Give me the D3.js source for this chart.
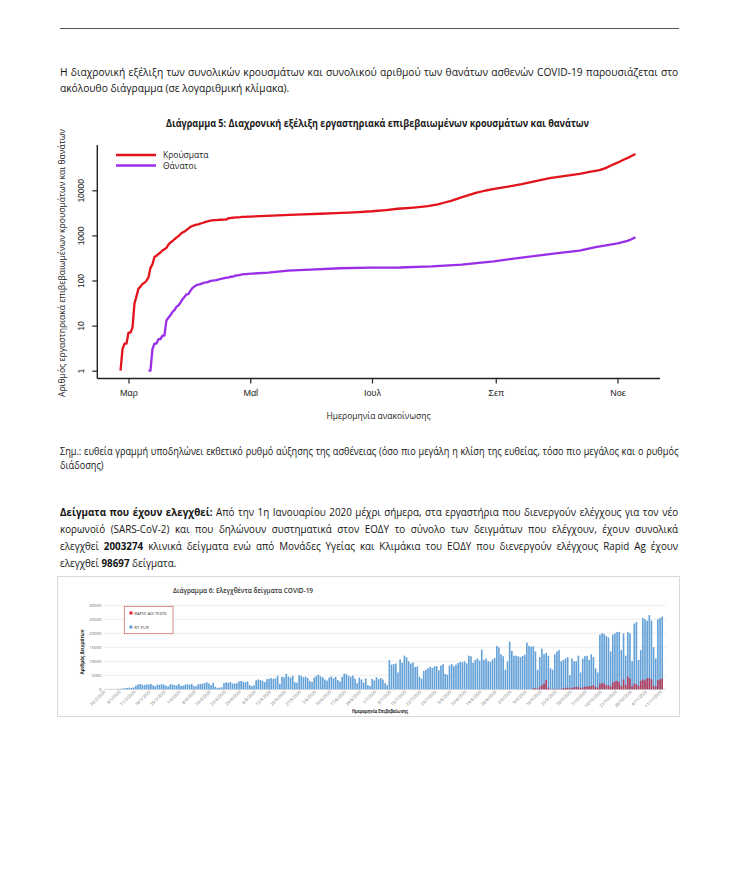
<!DOCTYPE html>
<html><head><meta charset="utf-8">
<script src="https://cdn.jsdelivr.net/npm/d3@7"></script>
<style>html,body{margin:0;padding:0;background:#fff;} svg{display:block;font-family:"Open Sans","Noto Sans",sans-serif;}</style>
</head><body><svg id="c" width="751" height="879"></svg>
<script>
// ---------- Chart 5 data (cumulative, log scale) ----------
const caseDates = ["2020-02-26","2020-02-27","2020-02-28","2020-02-29","2020-03-01","2020-03-02","2020-03-03","2020-03-04","2020-03-05","2020-03-06","2020-03-07","2020-03-08","2020-03-09","2020-03-10","2020-03-11","2020-03-12","2020-03-13","2020-03-14","2020-03-15","2020-03-16","2020-03-17","2020-03-18","2020-03-19","2020-03-20","2020-03-21","2020-03-22","2020-03-23","2020-03-24","2020-03-25","2020-03-26","2020-03-27","2020-03-28","2020-03-29","2020-03-30","2020-03-31","2020-04-01","2020-04-02","2020-04-03","2020-04-04","2020-04-05","2020-04-06","2020-04-07","2020-04-08","2020-04-09","2020-04-10","2020-04-11","2020-04-12","2020-04-13","2020-04-14","2020-04-15","2020-04-16","2020-04-17","2020-04-18","2020-04-19","2020-04-20","2020-04-21","2020-04-22","2020-04-23","2020-04-24","2020-04-25","2020-04-26","2020-04-27","2020-04-28","2020-04-29","2020-04-30","2020-05-01","2020-05-12","2020-05-24","2020-06-05","2020-06-13","2020-06-22","2020-07-01","2020-07-08","2020-07-14","2020-07-22","2020-07-29","2020-08-03","2020-08-06","2020-08-10","2020-08-14","2020-08-18","2020-08-22","2020-08-27","2020-09-01","2020-09-07","2020-09-14","2020-09-21","2020-09-28","2020-10-05","2020-10-13","2020-10-18","2020-10-23","2020-10-26","2020-10-29","2020-11-01","2020-11-04","2020-11-07","2020-11-10"];
const caseValues = [1,3,4,4,7,7,9,31,45,66,73,84,89,99,117,190,228,331,352,387,418,464,495,530,624,695,743,821,892,966,1061,1156,1212,1314,1415,1544,1613,1673,1735,1755,1832,1884,1955,2011,2081,2114,2145,2170,2192,2207,2224,2235,2235,2245,2401,2408,2463,2490,2506,2517,2534,2566,2576,2591,2612,2620,2750,2880,3020,3130,3250,3430,3650,3900,4150,4450,4870,5300,5900,6800,7700,8800,9900,10900,12000,13700,16000,18600,20700,23200,25500,27900,31000,36000,41000,47500,54500,64000];
const deathDates = ["2020-03-11","2020-03-12","2020-03-13","2020-03-14","2020-03-15","2020-03-16","2020-03-17","2020-03-18","2020-03-19","2020-03-20","2020-03-21","2020-03-22","2020-03-23","2020-03-24","2020-03-25","2020-03-26","2020-03-27","2020-03-28","2020-03-29","2020-03-30","2020-03-31","2020-04-01","2020-04-02","2020-04-03","2020-04-04","2020-04-05","2020-04-06","2020-04-07","2020-04-08","2020-04-09","2020-04-10","2020-04-11","2020-04-12","2020-04-13","2020-04-14","2020-04-15","2020-04-16","2020-04-17","2020-04-18","2020-04-19","2020-04-20","2020-04-21","2020-04-22","2020-04-23","2020-04-24","2020-04-25","2020-04-26","2020-04-27","2020-04-28","2020-04-29","2020-04-30","2020-05-10","2020-05-20","2020-05-31","2020-06-15","2020-06-30","2020-07-15","2020-07-31","2020-08-15","2020-08-31","2020-09-15","2020-09-30","2020-10-13","2020-10-21","2020-10-27","2020-11-01","2020-11-06","2020-11-08","2020-11-10"];
const deathValues = [1,1,3,4,4,5,5,6,6,13,15,17,20,22,26,28,32,38,43,49,50,59,68,73,79,81,83,86,90,91,93,98,99,101,102,105,108,110,113,116,116,121,121,125,130,130,134,136,138,139,140,150,166,175,187,192,194,206,226,266,326,393,458,548,610,665,755,820,915];
const monthTicks = ["2020-03-01","2020-05-01","2020-07-01","2020-09-01","2020-11-01"];
const monthLabels = ["Μαρ","Μαΐ","Ιουλ","Σεπ","Νοε"];
const logTicks = [1,10,100,1000,10000];
const seriesNames = ["Κρούσματα","Θάνατοι"];

// ---------- Chart 6 data (daily tests) ----------
const testsStart = "2020-02-26";
const rtPcr = [0,10,30,50,40,80,120,200,250,
 400,500,600,500,700,
 1300,1700,1900,1600,1500,1800,1700,1900,1400,
 1100,1700,1600,1800,1700,1300,1000,
 1800,1700,1500,1400,1900,1200,1300,
 1700,1800,1700,1900,1200,1100,1800,
 1900,2000,2200,2500,2100,1500,
 2400,900,500,600,700,2200,2500,
 2300,2600,2100,2000,
 2200,2800,3000,2700,2500,2800,1500,
 1100,1400,
 3200,3500,3300,3000,2600,3600,3800,
 4000,3700,3900,4800,
 2000,4500,4300,5500,4600,4200,4800,2500,2400,5000,4800,
 4300,4500,4000,3000,2600,4200,4800,
 5200,4600,4300,3500,3100,4200,4600,
 3900,4400,3300,2800,4500,5600,5400,
 4800,4500,4900,3800,
 2200,4200,3500,2400,3900,1500,1200,
 3700,3200,4300,3600,4000,3500,2200,1500,
 10400,8800,9000,9200,6000,10700,9500,
 12000,11400,10000,9200,9600,8000,8200,
 4500,3800,6500,7000,7500,8000,7600,
 8200,8300,6800,8500,9000,5500,5200,
 8500,9000,8200,8800,9400,9800,9600,
 10000,9300,12000,11800,
 9500,10500,11000,10200,
 14200,
 10500,11000,10000,9800,10600,11200,
 15500,15000,12500,11800,7000,10000,
 17000,13700,12000,12000,
 11800,11500,11900,12400,
 16700,15500,15200,15400,13500,7000,
 11500,14500,12500,13000,12000,
 7500,7000,12500,13500,14000,
 10000,10500,11000,11500,5000,
 11000,10000,10000,12000,6000,
 11000,11800,12000,10500,12500,11500,7500,6000,
 19500,20000,19800,19000,18500,13500,
 19500,20000,20500,20500,14000,20000,12000,
 20500,20000,10000,23500,24000,10500,14000,
 25500,25000,24500,26500,24500,15000,11000,
 25000,25500,26000];
const rapidAg = [
 0,0,0,0,0,0,0,0,0,0,0,0,0,0,0,0,0,0,0,0,0,0,0,0,0,0,0,0,0,0,0,0,0,0,0,0,0,0,0,0,0,0,0,0,0,0,0,0,0,0,
 0,0,0,0,0,0,0,0,0,0,0,0,0,0,0,0,0,0,0,0,0,0,0,0,0,0,0,0,0,0,0,0,0,0,0,0,0,0,0,0,0,0,0,0,0,0,0,0,0,0,
 0,0,0,0,0,0,0,0,0,0,0,0,0,0,0,0,0,0,0,0,0,0,0,0,0,0,0,0,0,0,0,0,0,0,0,0,0,0,0,0,0,0,0,0,0,0,0,0,0,0,
 0,0,0,0,0,0,0,0,0,0,0,0,0,0,0,0,0,0,0,0,0,0,0,0,0,0,0,0,0,0,0,0,0,0,0,0,0,0,0,0,0,0,0,0,0,0,0,0,0,300,
 400,200,800,1500,2000,3300,600,100,100,150,100,100,150,
 400,500,600,300,500,700,800,900,400,700,900,1000,1100,1200,1500,800,600,
 2000,2200,2100,1500,1400,1000,
 2500,2800,3000,2600,1200,3500,1500,
 4500,3800,1000,2000,1800,1200,3000,
 3500,3200,3900,4000,3600,1200,1000,
 3300,3600,3800];
const testTicks = [0,5000,10000,15000,20000,25000,30000];
const testSeriesNames = ["RAPID AG TESTS","RT-PCR"];

// ---------- helpers ----------
const svg = d3.select("#c");
svg.append("rect").attr("width",751).attr("height",879).attr("fill","#fff");
const parse = d3.timeParse("%Y-%m-%d");

function textLine(x, y, parts, size, width, opts={}) {
  const t = svg.append("text").attr("x", x).attr("y", y)
    .attr("font-size", size).attr("fill", opts.fill || "#1a1a1a")
    .attr("text-anchor", opts.anchor || "start");
  if (opts.weight) t.attr("font-weight", opts.weight);
  parts.forEach(p => {
    const s = t.append("tspan").text(p[0]);
    if (p[1]) s.attr("font-weight", "bold");
  });
  if (width) t.attr("textLength", width).attr("lengthAdjust", "spacingAndGlyphs");
  if (opts.transform) t.attr("transform", opts.transform);
  return t;
}

// paragraph: justified lines (all but last), horizontal condensing via scale
function para(x, y0, lh, size, width, lines, slack) {
  const els = lines.map((parts, i) => {
    const t = svg.append("text").attr("x", 0).attr("y", 0)
      .attr("font-size", size).attr("fill", "#141414");
    parts.forEach(p => {
      const s = t.append("tspan").text(p[0]);
      if (p[1]) s.attr("font-weight", "bold");
    });
    return t;
  });
  const ws = els.map(t => t.node().getComputedTextLength());
  const maxW = d3.max(ws.slice(0, -1));
  const k = Math.min(1, width / (maxW + (slack || 0)));
  els.forEach((t, i) => {
    const y = y0 + i * lh;
    if (i < els.length - 1) {
      const txt = t.node().textContent;
      const n = (txt.match(/ /g) || []).length;
      const sp = (width / k - ws[i]) / n;
      t.attr("word-spacing", sp);
    }
    t.attr("transform", `translate(${x},${y}) scale(${k},1)`);
  });
}

// top rule
svg.append("line").attr("x1",60).attr("x2",679).attr("y1",28.5).attr("y2",28.5)
  .attr("stroke","#555").attr("stroke-width",1.2);

// paragraph 1
para(60, 76, 16, 11, 619, [
  [["Η διαχρονική εξέλιξη των συνολικών κρουσμάτων και συνολικού αριθμού των θανάτων ασθενών COVID-19 παρουσιάζεται στο"]],
  [["ακόλουθο διάγραμμα (σε λογαριθμική κλίμακα)."]]
], 10);

// ---------- Chart 5 ----------
const cases = caseDates.map((d,i)=>({date: parse(d), v: caseValues[i]}));
const deaths = deathDates.map((d,i)=>({date: parse(d), v: deathValues[i]}));
const x1 = d3.scaleTime().domain([parse(monthTicks[0]), parse(monthTicks[4])]).range([128.5, 617.5]);
const y1 = d3.scaleLog().domain([1, 10000]).range([370.7, 190.3]);

textLine(377.5, 127, [["Διάγραμμα 5: Διαχρονική εξέλιξη εργαστηριακά επιβεβαιωμένων κρουσμάτων και θανάτων", true]], 10.5, 423, {anchor:"middle"});

// axes lines (L shape)
svg.append("line").attr("x1",97.3).attr("x2",97.3).attr("y1",145).attr("y2",378.5).attr("stroke","#222").attr("stroke-width",1.4);
svg.append("line").attr("x1",97.3).attr("x2",660).attr("y1",378.5).attr("y2",378.5).attr("stroke","#222").attr("stroke-width",1.4);

// y ticks
const yAx = svg.append("g").attr("transform","translate(97.3,0)")
  .call(d3.axisLeft(y1).tickValues(logTicks).tickFormat(d3.format("d")).tickSize(5).tickPadding(3));
yAx.select(".domain").remove();
yAx.selectAll("line").attr("stroke","#222").attr("stroke-width",1.2);
yAx.selectAll(".tick text").attr("font-size",8.5).attr("fill","#222")
  .attr("text-anchor","middle").attr("dy",0).attr("x",0).attr("y",0)
  .attr("transform", "translate(-13.5,0) rotate(-90)");

// x ticks
const xAx = svg.append("g").attr("transform","translate(0,378.5)")
  .call(d3.axisBottom(x1).tickValues(monthTicks.map(parse)).tickFormat((d,i)=>monthLabels[i]).tickSize(5).tickPadding(6));
xAx.select(".domain").remove();
xAx.selectAll("line").attr("stroke","#222").attr("stroke-width",1.2);
xAx.selectAll("text").attr("font-size",9).attr("fill","#222");

// axis titles
textLine(378.5, 419, [["Ημερομηνία ανακοίνωσης"]], 9, 104, {anchor:"middle", fill:"#222"});
textLine(0, 0, [["Αριθμός εργαστηριακά επιβεβαιωμένων κρουσμάτων και θανάτων"]], 9, 268, {anchor:"middle", fill:"#222", transform:"translate(65,263) rotate(-90)"});

// lines
const lineGen = d3.line().x(d=>x1(d.date)).y(d=>y1(d.v));
const colors = ["#e3131b","#9a2ee8"];
svg.append("path").datum(cases).attr("d", lineGen).attr("fill","none").attr("stroke",colors[0]).attr("stroke-width",2.3).attr("stroke-linejoin","round");
svg.append("path").datum(deaths).attr("d", lineGen).attr("fill","none").attr("stroke",colors[1]).attr("stroke-width",2.3).attr("stroke-linejoin","round");

// legend
seriesNames.forEach((n,i)=>{
  const yy = 155 + i*10.5;
  svg.append("line").attr("x1",116).attr("x2",156).attr("y1",yy).attr("y2",yy).attr("stroke",colors[i]).attr("stroke-width",2.3);
  textLine(163, yy+3, [[n]], 8.5, null, {fill:"#222"});
});

// note
para(60, 455, 14, 10, 619, [
  [["Σημ.: ευθεία γραμμή υποδηλώνει εκθετικό ρυθμό αύξησης της ασθένειας (όσο πιο μεγάλη η κλίση της ευθείας, τόσο πιο μεγάλος και ο ρυθμός"]],
  [["διάδοσης)"]]
], 10);

// paragraph 3
para(60, 516, 17, 11.3, 619, [
  [["Δείγματα που έχουν ελεγχθεί:", true],[" Από την 1η Ιανουαρίου 2020 μέχρι σήμερα, στα εργαστήρια που διενεργούν ελέγχους για τον νέο"]],
  [["κορωνοϊό (SARS-CoV-2) και που δηλώνουν συστηματικά στον ΕΟΔΥ το σύνολο των δειγμάτων που ελέγχουν, έχουν συνολικά"]],
  [["ελεγχθεί "],["2003274", true],[" κλινικά δείγματα ενώ από Μονάδες Υγείας και Κλιμάκια του ΕΟΔΥ που διενεργούν ελέγχους Rapid Ag έχουν"]],
  [["ελεγχθεί "],["98697", true],[" δείγματα."]]
], 20);

// ---------- Chart 6 ----------
svg.append("rect").attr("x",57.5).attr("y",576.5).attr("width",622).attr("height",140)
  .attr("fill","#fff").attr("stroke","#d9d9d9").attr("stroke-width",1);

const start = parse(testsStart);
const testDays = rtPcr.map((_,i)=>d3.timeDay.offset(start, i));
const x2 = d3.scaleBand().domain(d3.range(rtPcr.length)).range([105, 663]).paddingInner(0.25);
const y2 = d3.scaleLinear().domain([0,30000]).range([689.3, 605.3]);

// gridlines
svg.append("g").selectAll("line").data(testTicks).join("line")
  .attr("x1",104).attr("x2",666).attr("y1",d=>y2(d)).attr("y2",d=>y2(d))
  .attr("stroke",d=>d===0?"#d0d0d0":"#e8e8e8").attr("stroke-width",0.8);
svg.append("g").selectAll("text").data(testTicks).join("text")
  .attr("x",101.5).attr("y",d=>y2(d)+1.5).attr("text-anchor","end")
  .attr("font-size",4.3).attr("fill","#666").text(d=>d);

// bars
svg.append("g").selectAll("rect").data(rtPcr).join("rect")
  .attr("x",(d,i)=>x2(i)).attr("width",x2.bandwidth())
  .attr("y",d=>y2(d)).attr("height",d=>y2(0)-y2(d)).attr("fill","#62a0d8");
svg.append("g").selectAll("rect").data(rapidAg).join("rect")
  .attr("x",(d,i)=>x2(i)).attr("width",x2.bandwidth())
  .attr("y",d=>y2(d)).attr("height",d=>y2(0)-y2(d)).attr("fill","#c42a45").attr("opacity",0.85);

// x labels (weekly)
const fmt = d3.timeFormat("%-d/%-m/%Y");
svg.append("g").selectAll("text").data(d3.range(0, rtPcr.length, 7)).join("text")
  .attr("transform", i=>`translate(${x2(i)+x2.bandwidth()/2},${692}) rotate(-45)`)
  .attr("text-anchor","end").attr("font-size",4.2).attr("fill","#777")
  .text(i=>fmt(testDays[i]));

// titles
textLine(243, 593, [["Διάγραμμα 6: Ελεγχθέντα δείγματα COVID-19"]], 7, 140, {anchor:"middle", fill:"#333", weight:600});
textLine(380, 713, [["Ημερομηνία Επιβεβαίωσης", true]], 5.5, 56, {anchor:"middle", fill:"#222"});
textLine(0, 0, [["Αριθμός Δειγμάτων", true]], 5.5, 45, {anchor:"middle", fill:"#222", transform:"translate(84,652) rotate(-90)"});

// legend
svg.append("rect").attr("x",124.3).attr("y",606.3).attr("width",48.7).attr("height",27.4)
  .attr("fill","#fff").attr("stroke","#d46a6a").attr("stroke-width",0.8);
const legCols = ["#e0202a","#62a0d8"];
testSeriesNames.forEach((n,i)=>{
  const yy = 613 + i*14;
  svg.append("rect").attr("x",129.5).attr("y",yy-1.5).attr("width",3).attr("height",3).attr("fill",legCols[i]);
  textLine(134.3, yy+1.5, [[n]], 4.3, null, {fill:"#333"});
});
</script></body></html>
